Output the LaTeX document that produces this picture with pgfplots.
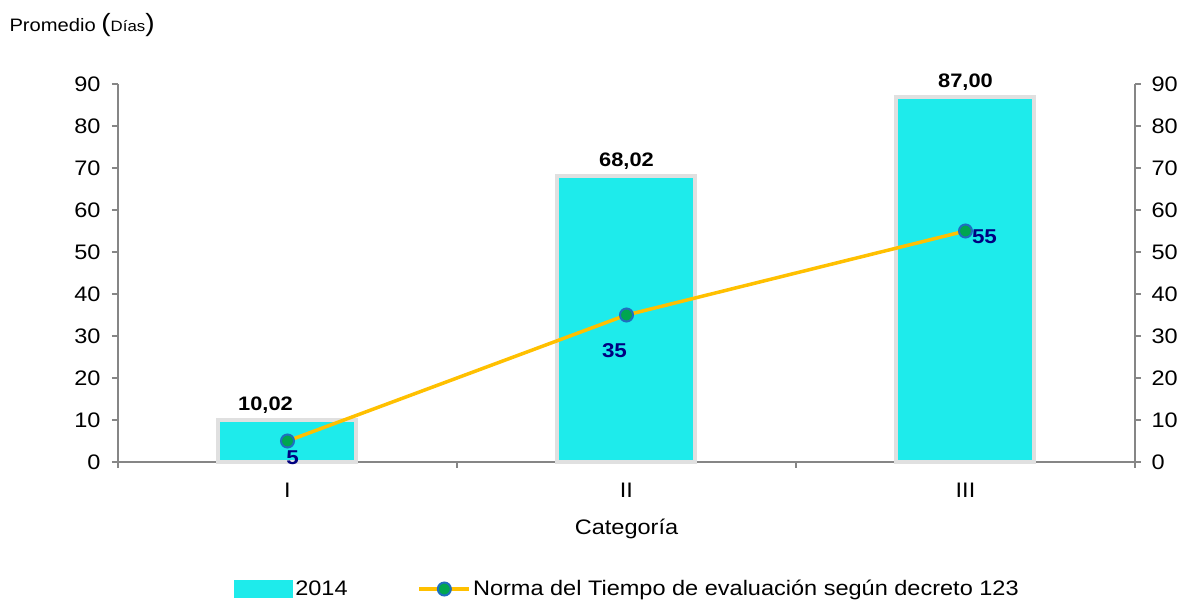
\documentclass[border=0pt]{standalone}
\usepackage{pgfplots}
\pgfplotsset{compat=1.18}
\usepackage{fontspec}
\setmainfont{Liberation Sans}[FakeStretch=1.12]

\definecolor{barcyan}{RGB}{30,235,235}
\definecolor{normline}{RGB}{255,192,0}
\definecolor{markgreen}{RGB}{0,166,80}
\definecolor{markblue}{RGB}{31,110,190}
\definecolor{lblblue}{RGB}{0,0,128}
\definecolor{axisgray}{RGB}{134,134,134}

\newcommand\fs{\fontsize{21}{25}\selectfont}

\pgfplotsset{
  base/.style={
    scale only axis, width=1017pt, height=378pt,
    xmin=-0.5, xmax=2.5, ymin=0, ymax=90,
    ytick={0,10,...,90},
    tick align=outside, major tick length=6pt,
    axis line style={axisgray, line width=1.6pt},
    tick style={axisgray, line width=1.6pt},
    tick label style={font=\fs},
    /pgf/number format/assume math mode=true,
    clip=false,
  },
  normlegend/.style={
    legend image code/.code={\draw[mark repeat=2, mark phase=2, ##1] plot coordinates {(0pt,0pt) (25pt,0pt) (50pt,0pt)};}
  },
}

\begin{document}
\begin{tikzpicture}
\path[use as bounding box] (-118pt,-140pt) rectangle (1061pt,462pt);

% bars, left axis, legend
\begin{axis}[base,
  axis y line*=left, axis x line*=bottom,
  yticklabel style={xshift=-8pt},
  xtick={-0.5,0.5,1.5,2.5}, xticklabels={},
  extra x ticks={0,1,2}, extra x tick labels={I,II,III},
  extra x tick style={major tick length=0pt, tick label style={yshift=-18pt}},
  xlabel={Categoría},
  xlabel style={font=\fs, yshift=-8pt},
  ylabel={\fontsize{18}{20}\selectfont Promedio {\fontsize{25}{26}\selectfont(}{\fontsize{15}{16}\selectfont Días}{\fontsize{25}{26}\selectfont)}},
  ylabel style={rotate=-90, at={(rel axis cs:0,1)}, anchor=west, xshift=-112pt, yshift=59pt},
  legend style={at={(0.501,-0.336)}, anchor=center, draw=none, fill=none,
    legend columns=2,
    /tikz/every even column/.append style={column sep=68pt},
    cells={anchor=west}, font=\fs},
]
\addplot[ybar, bar width=138pt, fill=barcyan, draw=black!12, line width=4pt,
  nodes near coords={\pgfmathprintnumber[fixed, fixed zerofill, precision=2, use comma, assume math mode=true]{\pgfplotspointmeta}},
  every node near coord/.append style={font=\fontsize{19.5}{22}\selectfont\bfseries, black, yshift=1pt},
  coordinate style/.condition={x==0}{xshift=-22pt},
  legend image code/.code={\fill[barcyan] (0pt,-7pt) rectangle (55pt,7pt);}]
  coordinates {(0,10.02) (1,68.02) (2,87.00)};
\addlegendentry{2014}
\addlegendimage{normline, line width=3.5pt, mark=*, mark size=6.5pt,
  mark options={fill=markgreen, draw=markblue, line width=2pt}, normlegend}
\addlegendentry{Norma del Tiempo de evaluación según decreto 123}
\end{axis}

% norm line, right axis
\begin{axis}[base,
  axis y line*=right, axis x line=none,
  yticklabel style={xshift=7pt},
  xtick=\empty,
]
\addplot[normline, line width=3.5pt, mark=*, mark size=6.5pt,
  mark options={fill=markgreen, draw=markblue, line width=2pt}]
  coordinates {(0,5) (1,35) (2,55)};
\addplot[draw=none, mark=none, point meta=y, nodes near coords,
  every node near coord/.append style={font=\fontsize{20}{24}\selectfont\bfseries, text=lblblue, anchor=north, xshift=5pt, yshift=-6pt}]
  coordinates {(0,5)};
\addplot[draw=none, mark=none, point meta=y, nodes near coords,
  every node near coord/.append style={font=\fontsize{20}{24}\selectfont\bfseries, text=lblblue, anchor=north, xshift=-12pt, yshift=-25pt}]
  coordinates {(1,35)};
\addplot[draw=none, mark=none, point meta=y, nodes near coords,
  every node near coord/.append style={font=\fontsize{20}{24}\selectfont\bfseries, text=lblblue, anchor=west, xshift=3pt, yshift=-6pt}]
  coordinates {(2,55)};
\end{axis}
\end{tikzpicture}
\end{document}
